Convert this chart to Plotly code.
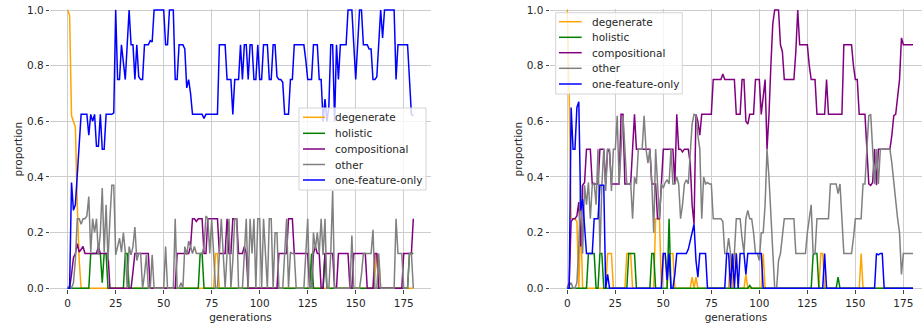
import plotly.graph_objects as go

# ---------------- data (generation 0..180) ----------------
generations = list(range(181))

# left panel
L_degenerate = [
    1, .98, .62, .6, .58, .3, .1, 0, 0, 0,
    0, 0, 0, 0, 0, 0, 0, 0, 0, 0,
    0, 0, 0, 0, 0, 0, 0, 0, 0, 0,
    0, 0, 0, 0, 0, 0, 0, 0, 0, 0,
    0, 0, 0, 0, 0, 0, 0, 0, 0, 0,
    0, 0, 0, 0, 0, 0, 0, 0, 0, 0,
    0, 0, 0, 0, 0, 0, 0, 0, 0, 0,
    0, 0, 0, 0, 0, 0, 0, .125, .125, 0,
    0, 0, 0, 0, 0, 0, 0, 0, 0, 0,
    0, 0, 0, 0, 0, 0, 0, 0, 0, 0,
    0, 0, 0, 0, 0, 0, 0, 0, 0, 0,
    0, 0, 0, 0, 0, 0, 0, 0, 0, 0,
    0, 0, 0, 0, 0, 0, 0, 0, 0, 0,
    0, 0, 0, 0, 0, 0, 0, 0, 0, 0,
    0, 0, 0, 0, 0, 0, 0, 0, 0, 0,
    0, 0, 0, 0, 0, 0, 0, 0, 0, 0,
    .05, .125, .1, 0, 0, 0, 0, 0, 0, 0,
    0, 0, 0, 0, 0, 0, 0, 0, 0, 0,
    0]
L_holistic = [
    0, 0, 0, 0, 0, 0, 0, 0, 0, 0,
    0, 0, .125, .125, .125, .125, .125, .125, .02, .125,
    .125, 0, 0, 0, 0, 0, 0, 0, 0, 0,
    .125, .125, 0, 0, 0, 0, 0, 0, 0, 0,
    0, 0, 0, 0, 0, 0, 0, 0, 0, 0,
    0, 0, 0, 0, 0, 0, 0, 0, 0, 0,
    0, 0, 0, 0, 0, 0, 0, 0, 0, .125,
    .125, 0, 0, 0, 0, 0, 0, 0, 0, 0,
    0, 0, 0, 0, 0, 0, 0, 0, 0, 0,
    0, 0, 0, 0, 0, 0, 0, 0, 0, 0,
    0, 0, 0, 0, 0, 0, 0, 0, 0, 0,
    0, 0, 0, 0, 0, 0, 0, 0, 0, 0,
    0, 0, 0, 0, 0, 0, 0, .125, 0, 0,
    0, 0, 0, 0, .125, 0, 0, 0, 0, 0,
    0, 0, 0, 0, 0, 0, 0, 0, 0, 0,
    0, 0, 0, 0, 0, 0, 0, 0, 0, 0,
    0, 0, 0, 0, 0, 0, 0, 0, 0, 0,
    0, 0, 0, 0, 0, 0, 0, 0, .125, .125,
    .125]
L_compositional = [
    0, 0, .05, .11, .125, .16, .13, .14, .15, .125,
    .125, .125, .125, .125, .125, .125, .15, .125, .125, .125,
    .125, .125, 0, 0, 0, 0, 0, 0, 0, 0,
    0, 0, 0, 0, .06, .125, .125, .125, .125, .125,
    .125, .125, .125, 0, 0, 0, 0, 0, 0, 0,
    0, 0, 0, 0, 0, 0, 0, .125, .125, .125,
    .125, .125, .125, .125, .15, .25, .25, .24, .25, .25,
    .25, .125, .125, .25, .25, .25, .25, .25, .25, .125,
    .125, .125, .125, .25, .125, .125, .25, .25, .25, .125,
    .125, .125, .15, .125, 0, 0, 0, 0, 0, 0,
    0, 0, 0, 0, 0, 0, 0, 0, 0, 0,
    .125, .125, .125, .125, .125, .25, .25, .25, .125, .125,
    .125, .125, .125, .125, .125, .125, 0, 0, .125, .15,
    .125, .125, 0, 0, .125, .125, .125, .125, .125, 0,
    0, .125, .125, .125, .125, .125, .125, 0, 0, .125,
    .125, .125, .125, .125, .125, .125, 0, 0, 0, 0,
    .125, .125, 0, 0, 0, 0, 0, 0, 0, 0,
    0, 0, 0, 0, 0, .125, .125, .125, .125, .125,
    .25]
L_other = [
    0, .01, 0, .02, .1, .25, .25, .23, .25, .25,
    .26, .33, .13, .25, .2, .25, .12, .2, .36, .13,
    .3, .1, .25, .37, .37, .12, .15, .18, .13, .2,
    .13, 0, .15, .12, .15, .22, .1, .125, .125, 0,
    .05, .12, 0, 0, .12, 0, 0, 0, 0, 0,
    0, .15, 0, 0, 0, 0, .25, 0, 0, .02,
    0, .15, .12, .17, .15, .125, .15, .125, .125, .125,
    .125, .15, .26, .25, .125, .25, .12, 0, 0, .125,
    .25, .125, 0, .125, .25, 0, .1, .25, .25, 0,
    0, 0, .125, .25, 0, .25, .125, .25, 0, .25,
    .25, 0, .25, .125, 0, .25, .25, 0, .2, .2,
    0, 0, 0, .125, .25, 0, .13, .125, .125, 0,
    0, 0, 0, 0, .125, .25, 0, 0, .2, .14,
    .2, .125, .25, .12, .25, 0, 0, .125, .35, 0,
    0, 0, 0, 0, 0, 0, 0, 0, .19, 0,
    0, 0, 0, .05, .125, .125, .125, .125, .125, .21,
    0, 0, .125, 0, 0, 0, 0, 0, 0, 0,
    0, .25, .125, .125, .125, 0, 0, 0, .125, .125,
    0]
L_one_feature = [
    0, 0, .38, .28, .3, .42, .55, .625, .625, .625,
    .625, .55, .625, .6, .625, .51, .51, .625, .5, .5,
    .625, .625, .625, .625, .63, 1, .75, .75, .875, .8,
    .75, .875, 1, .875, .875, .75, .875, .76, .75, .75,
    .875, .875, .875, .89, .885, 1, 1, 1, 1, 1,
    1, .875, .875, 1, 1, 1, .75, .75, .875, .875,
    .875, .86, .72, .75, .7, .625, .625, .625, .625, .625,
    .625, .61, .625, .625, .625, .625, .625, .625, .625, .875,
    .875, .875, .875, .75, .75, .75, .625, .75, .75, .75,
    .875, .75, .875, .875, .75, .875, .875, .75, .75, .875,
    .75, .75, .875, .875, .875, .75, .75, .875, .875, .76,
    .75, .75, .74, .625, .625, .625, .75, .75, .875, .875,
    .875, .875, .875, .875, .82, .75, .75, .75, .875, .875,
    .875, .75, .75, .6, .68, .6, .65, .875, .875, .6,
    .875, .75, .875, .875, .875, .875, 1, 1, 1, .875,
    .75, .875, 1, 1, .875, .875, .875, .86, .86, .75,
    .75, .76, .875, 1, .9, 1, 1, 1, 1, 1,
    1, .75, .875, .875, .875, .875, .875, .875, .75, .625,
    .62]

# right panel
R_degenerate = [
    1, .7, .25, .25, .25, .24, 0, .25, 0, 0,
    0, 0, 0, 0, 0, 0, 0, 0, 0, 0,
    0, .125, .125, .125, 0, 0, 0, 0, 0, 0,
    0, .125, .125, .125, 0, 0, 0, 0, 0, 0,
    0, 0, 0, 0, 0, 0, .25, .25, .25, 0,
    .125, .125, 0, .125, .125, .125, 0, 0, 0, 0,
    0, 0, 0, 0, 0, .04, 0, .04, 0, 0,
    0, 0, 0, 0, 0, 0, 0, 0, 0, 0,
    0, 0, 0, 0, 0, .125, 0, .125, .125, 0,
    0, 0, 0, .05, 0, 0, 0, 0, 0, 0,
    0, 0, .125, 0, 0, 0, 0, 0, 0, 0,
    0, 0, 0, 0, 0, 0, 0, 0, 0, 0,
    0, 0, 0, 0, 0, 0, 0, 0, 0, 0,
    0, 0, .125, .125, 0, 0, 0, 0, 0, 0,
    0, 0, 0, 0, 0, 0, 0, 0, 0, 0,
    0, 0, 0, .125, 0, 0, 0, 0, 0, 0,
    0, 0, 0, 0, 0, 0, 0, 0, 0, 0,
    0, 0, 0, 0, 0, 0, 0, 0, 0, 0,
    0]
R_holistic = [
    0, 0, 0, 0, 0, 0, 0, 0, 0, 0,
    0, .125, .125, .125, .125, 0, 0, .125, .125, 0,
    0, 0, 0, 0, 0, 0, 0, 0, 0, 0,
    0, 0, .125, .125, .125, .125, 0, 0, 0, 0,
    0, 0, 0, 0, .125, .125, 0, 0, 0, 0,
    0, 0, 0, .25, 0, 0, 0, 0, 0, 0,
    0, 0, 0, 0, 0, 0, 0, 0, 0, 0,
    0, 0, 0, 0, 0, 0, 0, 0, 0, 0,
    0, 0, 0, 0, 0, 0, 0, 0, 0, 0,
    0, 0, 0, 0, 0, .01, 0, 0, 0, 0,
    0, 0, 0, 0, 0, 0, 0, 0, 0, 0,
    0, 0, 0, 0, 0, 0, 0, 0, 0, 0,
    0, 0, 0, 0, 0, 0, 0, 0, .12, .125,
    .125, 0, 0, 0, 0, 0, 0, 0, 0, 0,
    0, .04, 0, 0, 0, 0, 0, 0, 0, 0,
    0, 0, 0, 0, 0, 0, 0, 0, 0, 0,
    0, 0, 0, 0, 0, 0, 0, 0, 0, 0,
    0, 0, 0, 0, 0, 0, 0, 0, 0, 0,
    0]
R_compositional = [
    0, .02, .24, .25, .25, .26, .31, .15, .37, .38,
    .5, .5, .5, .375, .375, .375, .375, .5, .5, .5,
    .375, .5, .49, .375, .375, .375, .375, .375, .625, .625,
    .375, .375, .375, .375, .5, .625, .5, .5, .5, .5,
    .5, .5, .5, .5, .375, .375, .375, .25, .25, .375,
    .5, .5, .5, .5, .5, .5, .375, .625, .5, .5,
    .49, .5, .5, .5, .45, .3, .23, .625, .6, .55,
    .625, .625, .625, .625, .625, .625, .75, .75, .75, .75,
    .75, .77, .75, .75, .75, .75, .75, .75, .625, .625,
    .625, .75, .75, .6, .59, .625, .625, .625, .75, .75,
    .75, .625, .7, .75, .5, .62, .8, .95, 1, 1,
    1, .875, .85, .75, .75, .75, .75, .75, .75, .85,
    1, .875, .875, .875, .875, .875, .8, .75, .75, .75,
    .625, .625, .625, .625, .625, .75, .625, .625, .625, .625,
    .625, .625, .625, .625, .875, .875, .875, .875, .875, .8,
    .75, .75, .625, .625, .625, .625, .5, .375, .37, .38,
    .5, .37, .5, .5, .5, .5, .5, .5, .5, .55,
    .62, .625, .7, .75, .9, .875, .875, .875, .875, .875,
    .875]
R_other = [
    0, .01, .02, 0, 0, .02, .15, .37, .125, .37,
    .3, .38, .25, .37, .38, .3, .5, .125, .37, .5,
    .35, .5, .5, .35, .5, .5, .62, .375, .5, .62,
    .5, .375, .375, .38, .25, .4, .375, .5, .5, .5,
    .62, .5, .45, .5, .38, .2, .5, .375, .25, .375,
    .36, .38, .39, .375, .5, .375, .375, .4, .375, .25,
    .3, .375, .39, .375, .5, .59, .625, .62, .55, .5,
    .25, .4, .375, .38, .375, .375, .25, .25, .25, .25,
    .25, .24, .125, .125, .18, .125, .06, .125, .25, .25,
    .25, .18, .125, .25, .28, .25, .25, .2, .125, .125,
    .1, .2, .2, .3, .5, .4, .25, .125, 0, 0,
    .1, .125, .18, .25, .25, .25, .25, .25, .25, .125,
    .125, .125, .125, .125, .125, .2, .25, .3, .125, .125,
    .25, .25, .25, .25, .25, .25, .25, .375, .375, .375,
    .375, .34, .375, .25, .125, .125, .125, .125, .125, .18,
    .25, .25, .25, .25, .375, .375, .5, .62, .625, .5,
    .375, .5, .375, .5, .5, .5, .5, .5, .5, .45,
    .375, .3, .25, .2, .05, .125, .125, .125, .125, .125,
    .125]
R_one_feature = [
    0, 0, .65, .5, .5, .65, .67, .28, .32, .2,
    .125, .125, .125, .125, .25, .25, .25, .37, .37, .37,
    0, .05, 0, 0, 0, 0, 0, 0, 0, 0,
    0, 0, 0, 0, 0, 0, 0, 0, 0, 0,
    0, 0, 0, 0, 0, 0, 0, 0, 0, 0,
    .125, .125, .03, .125, 0, 0, .05, .125, .125, .125,
    .125, .125, .125, .14, .17, .2, .23, .1, .04, .125,
    .125, .125, .125, 0, 0, 0, 0, 0, 0, 0,
    0, 0, 0, .125, .125, 0, .125, 0, .125, 0,
    .125, .125, .125, .05, .125, .125, .125, .125, .125, .125,
    .125, .125, 0, 0, 0, 0, 0, 0, 0, 0,
    0, 0, 0, 0, 0, 0, 0, 0, 0, 0,
    0, 0, 0, 0, 0, 0, 0, 0, 0, 0,
    0, 0, 0, 0, .125, 0, 0, 0, 0, 0,
    0, 0, 0, 0, 0, 0, 0, 0, 0, 0,
    0, 0, 0, 0, 0, 0, 0, 0, 0, 0,
    0, .125, .12, .125, .125, 0, 0, 0, 0, 0,
    0, 0, 0, 0, 0, 0, 0, 0, 0, 0,
    0]

series_names = ["degenerate", "holistic", "compositional", "other", "one-feature-only"]
series_colors = ["orange", "green", "purple", "gray", "blue"]
left_series = [L_degenerate, L_holistic, L_compositional, L_other, L_one_feature]
right_series = [R_degenerate, R_holistic, R_compositional, R_other, R_one_feature]
x_ticks = [0, 25, 50, 75, 100, 125, 150, 175]
y_ticks = [0.0, 0.2, 0.4, 0.6, 0.8, 1.0]

# ---------------- figure ----------------
W, H = 922, 329
FONT = "DejaVu Sans"
FS = 10.5
TXT = "#262626"
GRID = "#cdcdcd"

fig = go.Figure()
for vals, name, col in zip(left_series, series_names, series_colors):
    fig.add_trace(go.Scatter(x=generations, y=vals, mode="lines", name=name,
                             line=dict(color=col, width=1.5), xaxis="x", yaxis="y",
                             showlegend=False))
for vals, name, col in zip(right_series, series_names, series_colors):
    fig.add_trace(go.Scatter(x=generations, y=vals, mode="lines", name=name,
                             line=dict(color=col, width=1.5), xaxis="x2", yaxis="y2",
                             showlegend=False))

def px_x(p):
    return p / W

def px_y(p):
    return 1 - p / H

ydom = [px_y(289.4), px_y(8.9)]
common_x = dict(tickvals=x_ticks, showgrid=True, gridcolor=GRID, gridwidth=1,
                zeroline=False, showline=False, ticks="outside", ticklen=3.5,
                tickcolor="#444", tickwidth=1, automargin=False,
                tickfont=dict(family=FONT, size=FS, color=TXT),
                title=dict(text="generations", font=dict(family=FONT, size=FS, color=TXT), standoff=6))
common_y = dict(tickvals=y_ticks, tickformat=".1f", range=[-0.004, 1.004], domain=ydom,
                showgrid=True, gridcolor=GRID, gridwidth=1, zeroline=False, showline=False,
                ticks="outside", ticklen=3.5, tickcolor="#444", tickwidth=1, automargin=False,
                tickfont=dict(family=FONT, size=FS, color=TXT),
                title=dict(text="proportion", font=dict(family=FONT, size=FS, color=TXT), standoff=2))

fig.update_layout(
    width=W, height=H,
    margin=dict(l=0, r=0, t=0, b=0, autoexpand=False),
    paper_bgcolor="white", plot_bgcolor="white",
    font=dict(family=FONT, size=FS, color=TXT),
    xaxis=dict(domain=[px_x(50.4), px_x(430.6)], range=[-9, 189], anchor="y", **common_x),
    yaxis=dict(anchor="x", **common_y),
    xaxis2=dict(domain=[px_x(550.0), 1.0], range=[-9, 184.7], anchor="y2", **common_x),
    yaxis2=dict(anchor="x2", **common_y),
)

# manual legends (matplotlib-style boxes)
def add_legend(box, line_x, text_x, rows):
    x0, x1, y0, y1 = box
    fig.add_shape(type="rect", xref="paper", yref="paper",
                  x0=px_x(x0), x1=px_x(x1), y0=px_y(y1), y1=px_y(y0),
                  fillcolor="rgba(255,255,255,0.8)", line=dict(color="#d4d4d4", width=1),
                  layer="above")
    for name, col, ry in zip(series_names, series_colors, rows):
        fig.add_shape(type="line", xref="paper", yref="paper",
                      x0=px_x(line_x[0]), x1=px_x(line_x[1]), y0=px_y(ry), y1=px_y(ry),
                      line=dict(color=col, width=1.5), layer="above")
        fig.add_annotation(xref="paper", yref="paper", x=px_x(text_x), y=px_y(ry),
                           text=name, showarrow=False, xanchor="left", yanchor="middle",
                           font=dict(family=FONT, size=FS, color=TXT))

add_legend((299, 426, 108, 190), (303, 325), 333, [117.3, 133.3, 149.0, 164.5, 180.0])
add_legend((555.7, 682.3, 12.7, 94.0), (559, 581.7), 590, [21.7, 37.3, 52.7, 68.3, 84.0])

fig.write_html("out.html",
               config={"displayModeBar": False},
               post_script="document.body.style.margin='0px';document.body.style.overflow='hidden';")
